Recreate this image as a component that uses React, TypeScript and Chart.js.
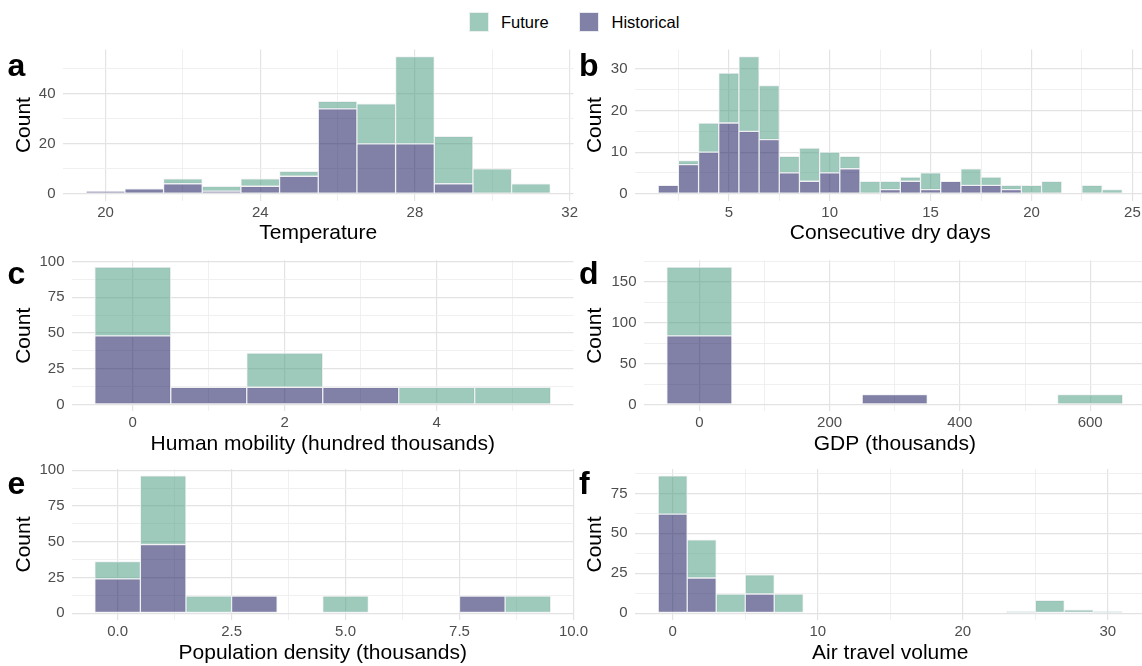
import React, { useEffect, useRef } from 'react';
import { Chart, registerables } from 'chart.js';

Chart.register(...registerables);

const FONT = '"Liberation Sans", Arial, Helvetica, sans-serif';

// ---------------- data ----------------
const seriesNames = ['Future', 'Historical'];

// a: Temperature (bin width 1)
const tempBins = [20, 21, 22, 23, 24, 25, 26, 27, 28, 29, 30, 31];
const tempHistorical = [1, 2, 4, 1, 3, 7, 34, 20, 20, 4, 0, 0];
const tempFuture = [0, 0, 2, 2, 3, 2, 3, 16, 35, 19, 10, 4];
const tempXTicks = [20, 24, 28, 32];
const tempXLabels = ['20', '24', '28', '32'];
const tempYTicks = [0, 20, 40];
const tempYLabels = ['0', '20', '40'];

// b: Consecutive dry days (bin width 1)
const cddBins = [2, 3, 4, 5, 6, 7, 8, 9, 10, 11, 12, 13, 14, 15, 16, 17, 18, 19, 20, 21, 22, 23, 24];
const cddHistorical = [2, 7, 10, 17, 15, 13, 5, 3, 5, 6, 0, 1, 3, 1, 3, 2, 2, 1, 0, 0, 0, 0, 0];
const cddFuture = [0, 1, 7, 12, 18, 13, 4, 8, 5, 3, 3, 2, 1, 4, 0, 4, 2, 1, 2, 3, 0, 2, 1];
const cddXTicks = [5, 10, 15, 20, 25];
const cddXLabels = ['5', '10', '15', '20', '25'];
const cddYTicks = [0, 10, 20, 30];
const cddYLabels = ['0', '10', '20', '30'];

// c: Human mobility (hundred thousands)
const mobBins = [0, 1, 2, 3, 4, 5];
const mobHistorical = [48, 12, 12, 12, 0, 0];
const mobFuture = [48, 0, 24, 0, 12, 12];
const mobXTicks = [0, 2, 4];
const mobXLabels = ['0', '2', '4'];
const mobYTicks = [0, 25, 50, 75, 100];
const mobYLabels = ['0', '25', '50', '75', '100'];

// d: GDP (thousands)
const gdpBins = [0, 100, 200, 300, 400, 500, 600];
const gdpHistorical = [84, 0, 0, 12, 0, 0, 0];
const gdpFuture = [84, 0, 0, 0, 0, 0, 12];
const gdpXTicks = [0, 200, 400, 600];
const gdpXLabels = ['0', '200', '400', '600'];
const gdpYTicks = [0, 50, 100, 150];
const gdpYLabels = ['0', '50', '100', '150'];

// e: Population density (thousands)
const popBins = [0, 1, 2, 3, 4, 5, 6, 7, 8, 9];
const popHistorical = [24, 48, 0, 12, 0, 0, 0, 0, 12, 0];
const popFuture = [12, 48, 12, 0, 0, 12, 0, 0, 0, 12];
const popXTicks = [0, 2.5, 5, 7.5, 10];
const popXLabels = ['0.0', '2.5', '5.0', '7.5', '10.0'];
const popYTicks = [0, 25, 50, 75, 100];
const popYLabels = ['0', '25', '50', '75', '100'];

// f: Air travel volume (bin width 2)
const airBins = [0, 2, 4, 6, 8, 10, 12, 14, 16, 18, 20, 22, 24, 26, 28, 30];
const airHistorical = [62, 22, 0, 12, 0, 0, 0, 0, 0, 0, 0, 0, 0, 0, 0, 0];
const airFuture = [24, 24, 12, 12, 12, 0, 0, 0, 0, 0, 0, 0, 1, 8, 2, 1];
const airXTicks = [0, 10, 20, 30];
const airXLabels = ['0', '10', '20', '30'];
const airYTicks = [0, 25, 50, 75];
const airYLabels = ['0', '25', '50', '75'];

// ---------------- styles ----------------
const FUT_FILL = 'rgba(79, 159, 133, 0.55)';
const HIST_FILL = 'rgba(26, 24, 93, 0.55)';
const BAR_BORDER = 'rgba(238, 240, 242, 0.95)';
const GRID_MAJOR = '#e3e3e3';
const GRID_MINOR = '#eeeeee';
const TICK_COLOR = '#4d4d4d';

type PanelCfg = {
  letter: string;
  xTitle: string;
  bins: number[];
  hist: number[];
  fut: number[];
  xTicks: number[];
  xLabels: string[];
  yTicks: number[];
  yLabels: string[];
  col: number;
  row: number;
  plotLeft: number;
};

const panels: PanelCfg[] = [
  { letter: 'a', xTitle: 'Temperature', bins: tempBins, hist: tempHistorical, fut: tempFuture, xTicks: tempXTicks, xLabels: tempXLabels, yTicks: tempYTicks, yLabels: tempYLabels, col: 0, row: 0, plotLeft: 63 },
  { letter: 'b', xTitle: 'Consecutive dry days', bins: cddBins, hist: cddHistorical, fut: cddFuture, xTicks: cddXTicks, xLabels: cddXLabels, yTicks: cddYTicks, yLabels: cddYLabels, col: 1, row: 0, plotLeft: 64 },
  { letter: 'c', xTitle: 'Human mobility (hundred thousands)', bins: mobBins, hist: mobHistorical, fut: mobFuture, xTicks: mobXTicks, xLabels: mobXLabels, yTicks: mobYTicks, yLabels: mobYLabels, col: 0, row: 1, plotLeft: 72 },
  { letter: 'd', xTitle: 'GDP (thousands)', bins: gdpBins, hist: gdpHistorical, fut: gdpFuture, xTicks: gdpXTicks, xLabels: gdpXLabels, yTicks: gdpYTicks, yLabels: gdpYLabels, col: 1, row: 1, plotLeft: 73 },
  { letter: 'e', xTitle: 'Population density (thousands)', bins: popBins, hist: popHistorical, fut: popFuture, xTicks: popXTicks, xLabels: popXLabels, yTicks: popYTicks, yLabels: popYLabels, col: 0, row: 2, plotLeft: 72 },
  { letter: 'f', xTitle: 'Air travel volume', bins: airBins, hist: airHistorical, fut: airFuture, xTicks: airXTicks, xLabels: airXLabels, yTicks: airYTicks, yLabels: airYLabels, col: 1, row: 2, plotLeft: 64 },
];

// ---------------- layout ----------------
const COL_LEFT = [0, 571];
const COL_PLOT_RIGHT = [573.5, 1145.5];
const CANVAS_W = 600;
const ROW_CANVAS_TOP = [32, 243, 451];
const ROW_PLOT_TOP = [49.6, 260.3, 469];
const LETTER_BASELINE = [76, 284.5, 494.5];
const PLOT_H = 151;
const XAXIS_H = 45.6;
const CANVAS_H = 220;

function withMinors(major: number[], lo: number, hi: number): number[] {
  const step = major[1] - major[0];
  const out: number[] = [];
  const first = major[0] - step;
  const last = major[major.length - 1] + step;
  for (let v = first; v <= last + 1e-9; v += step / 2) {
    const r = Math.round(v * 1e6) / 1e6;
    if (r >= lo - 1e-9 && r <= hi + 1e-9) out.push(r);
  }
  return out;
}

const near = (a: number, b: number) => Math.abs(a - b) < 1e-6;

function Panel({ cfg }: { cfg: PanelCfg }) {
  const ref = useRef<HTMLCanvasElement>(null);
  useEffect(() => {
    const bw = cfg.bins[1] - cfg.bins[0];
    const lo = cfg.bins[0] - bw / 2;
    const hi = cfg.bins[cfg.bins.length - 1] + bw / 2;
    const xMin = lo - 0.05 * (hi - lo);
    const xMax = hi + 0.05 * (hi - lo);
    const totals = cfg.bins.map((_, i) => cfg.hist[i] + cfg.fut[i]);
    const M = Math.max(...totals);
    const yMin = -0.05 * M;
    const yMax = 1.05 * M;
    const xAll = withMinors(cfg.xTicks, xMin, xMax);
    const yAll = withMinors(cfg.yTicks, yMin, yMax);
    const isMajor = (list: number[], v: number) => list.some((t) => near(t, v));
    const labelFor = (list: number[], labels: string[], v: number) => {
      const i = list.findIndex((t) => near(t, v));
      return i >= 0 ? labels[i] : '';
    };

    const padTop = ROW_PLOT_TOP[cfg.row] - ROW_CANVAS_TOP[cfg.row];
    const padBottom = CANVAS_H - padTop - PLOT_H - XAXIS_H;
    const padRight = COL_LEFT[cfg.col] + CANVAS_W - COL_PLOT_RIGHT[cfg.col];

    const common = {
      backgroundColor: '',
      borderColor: BAR_BORDER,
      borderWidth: 1,
      borderSkipped: false as const,
      barPercentage: 1,
      categoryPercentage: 1,
    };

    const chart = new Chart(ref.current as HTMLCanvasElement, {
      type: 'bar',
      data: {
        datasets: [
          {
            ...common,
            label: seriesNames[1],
            backgroundColor: HIST_FILL,
            data: cfg.bins.map((x, i) => ({ x, y: cfg.hist[i] })),
          },
          {
            ...common,
            label: seriesNames[0],
            backgroundColor: FUT_FILL,
            data: cfg.bins.map((x, i) => ({ x, y: cfg.fut[i] })),
          },
        ],
      } as any,
      options: {
        animation: false,
        responsive: false,
        devicePixelRatio: 1,
        layout: { padding: { left: 0, top: padTop, right: padRight, bottom: padBottom } },
        plugins: { legend: { display: false }, tooltip: { enabled: false } },
        scales: {
          x: {
            type: 'linear',
            stacked: true,
            offset: false,
            min: xMin,
            max: xMax,
            border: { display: false },
            grid: {
              offset: false,
              drawTicks: false,
              color: (ctx: any) => (isMajor(cfg.xTicks, ctx.tick?.value) ? GRID_MAJOR : GRID_MINOR),
              lineWidth: (ctx: any) => (isMajor(cfg.xTicks, ctx.tick?.value) ? 1.2 : 0.9),
            },
            afterBuildTicks: (scale: any) => {
              scale.ticks = xAll.map((v) => ({ value: v }));
            },
            afterFit: (scale: any) => {
              scale.height = XAXIS_H;
            },
            ticks: {
              autoSkip: false,
              maxRotation: 0,
              padding: 3,
              color: TICK_COLOR,
              font: { family: FONT, size: 15 },
              callback: (v: any) => labelFor(cfg.xTicks, cfg.xLabels, Number(v)),
            },
            title: {
              display: true,
              text: cfg.xTitle,
              color: '#000',
              padding: 0,
              font: { family: FONT, size: 21 },
            },
          },
          y: {
            type: 'linear',
            stacked: true,
            min: yMin,
            max: yMax,
            border: { display: false },
            grid: {
              drawTicks: false,
              color: (ctx: any) => (isMajor(cfg.yTicks, ctx.tick?.value) ? GRID_MAJOR : GRID_MINOR),
              lineWidth: (ctx: any) => (isMajor(cfg.yTicks, ctx.tick?.value) ? 1.2 : 0.9),
            },
            afterBuildTicks: (scale: any) => {
              scale.ticks = yAll.map((v) => ({ value: v }));
            },
            afterFit: (scale: any) => {
              scale.width = cfg.plotLeft;
            },
            ticks: {
              autoSkip: false,
              padding: 7.5,
              color: TICK_COLOR,
              font: { family: FONT, size: 15 },
              callback: (v: any) => labelFor(cfg.yTicks, cfg.yLabels, Number(v)),
            },
            title: {
              display: true,
              text: 'Count',
              color: '#000',
              padding: { top: 11.5, bottom: 0 },
              font: { family: FONT, size: 21 },
            },
          },
        },
      } as any,
    });
    return () => chart.destroy();
  }, [cfg]);

  return (
    <>
      <canvas
        ref={ref}
        width={CANVAS_W}
        height={CANVAS_H}
        style={{
          position: 'absolute',
          left: COL_LEFT[cfg.col],
          top: ROW_CANVAS_TOP[cfg.row],
          width: CANVAS_W,
          height: CANVAS_H,
        }}
      />
      <div
        style={{
          position: 'absolute',
          left: COL_LEFT[cfg.col] + (cfg.col === 0 ? 7.5 : 8),
          top: LETTER_BASELINE[cfg.row] - 27.1,
          fontFamily: FONT,
          fontWeight: 'bold',
          fontSize: 32,
          lineHeight: '32px',
          color: '#000',
          whiteSpace: 'nowrap',
        }}
      >
        {cfg.letter}
      </div>
    </>
  );
}

function LegendItem({ left, textLeft, fill, text }: { left: number; textLeft: number; fill: string; text: string }) {
  return (
    <>
      <div
        style={{
          position: 'absolute',
          left,
          top: 11.5,
          width: 20,
          height: 20,
          boxSizing: 'border-box',
          background: fill,
          border: `1px solid ${BAR_BORDER}`,
        }}
      />
      <div
        style={{
          position: 'absolute',
          left: textLeft,
          top: 11.5,
          height: 20,
          lineHeight: '20px',
          fontFamily: FONT,
          fontSize: 16.5,
          color: '#000',
          whiteSpace: 'nowrap',
        }}
      >
        {text}
      </div>
    </>
  );
}

export default function App() {
  return (
    <div
      style={{
        position: 'fixed',
        left: 0,
        top: 0,
        width: 1142,
        height: 666,
        overflow: 'hidden',
        background: '#ffffff',
      }}
    >
      <LegendItem left={468.5} textLeft={501} fill={FUT_FILL} text={seriesNames[0]} />
      <LegendItem left={578.5} textLeft={611.5} fill={HIST_FILL} text={seriesNames[1]} />
      {panels.map((p) => (
        <Panel key={p.letter} cfg={p} />
      ))}
    </div>
  );
}
